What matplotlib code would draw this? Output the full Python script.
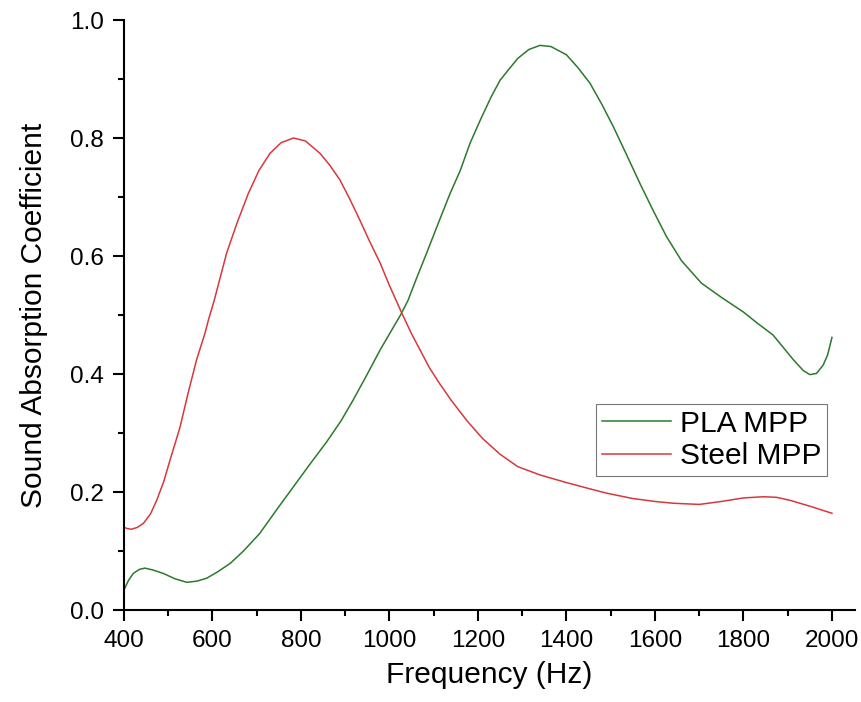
import numpy as np
import matplotlib.pyplot as plt
from matplotlib.ticker import MultipleLocator, FormatStrFormatter

plt.rcParams['font.family'] = ['Liberation Sans', 'DejaVu Sans']

# PLA MPP
freq_pla = [400, 410, 421, 435, 447, 465, 489, 515, 542, 565, 587, 610, 640, 670,
            707, 745, 783, 820, 858, 890, 918, 950, 979, 1000, 1025, 1042, 1060,
            1084, 1110, 1137, 1160, 1182, 1205, 1230, 1250, 1265, 1290, 1315, 1340,
            1365, 1400, 1425, 1453, 1480, 1506, 1535, 1566, 1596, 1626, 1660, 1705,
            1750, 1800, 1830, 1867, 1890, 1913, 1935, 1950, 1965, 1980, 1990, 2000]
alpha_pla = [0.034, 0.050, 0.062, 0.069, 0.071, 0.068, 0.062, 0.053, 0.047, 0.049,
             0.054, 0.064, 0.079, 0.100, 0.130, 0.170, 0.209, 0.247, 0.285, 0.320,
             0.356, 0.400, 0.441, 0.468, 0.500, 0.525, 0.560, 0.605, 0.655, 0.706,
             0.745, 0.791, 0.830, 0.870, 0.898, 0.912, 0.935, 0.950, 0.957, 0.955,
             0.941, 0.920, 0.893, 0.857, 0.819, 0.773, 0.723, 0.677, 0.633, 0.592,
             0.554, 0.530, 0.505, 0.487, 0.466, 0.445, 0.424, 0.406, 0.399, 0.401,
             0.415, 0.432, 0.462]

# Steel MPP
freq_steel = [400, 408, 417, 430, 444, 460, 474, 490, 504, 515, 527, 545, 564, 583,
              591, 604, 632, 655, 681, 705, 730, 755, 783, 810, 843, 865, 888, 910,
              933, 955, 979, 1000, 1028, 1050, 1069, 1090, 1114, 1140, 1175, 1210,
              1250, 1290, 1340, 1400, 1450, 1491, 1550, 1600, 1641, 1700, 1750, 1800,
              1845, 1875, 1905, 1950, 2000]
alpha_steel = [0.140, 0.138, 0.137, 0.140, 0.147, 0.163, 0.186, 0.218, 0.254, 0.281,
               0.311, 0.368, 0.424, 0.469, 0.492, 0.525, 0.605, 0.655, 0.706, 0.745,
               0.774, 0.792, 0.800, 0.795, 0.774, 0.754, 0.729, 0.697, 0.661, 0.625,
               0.588, 0.550, 0.503, 0.468, 0.441, 0.411, 0.383, 0.355, 0.321, 0.291,
               0.264, 0.243, 0.229, 0.216, 0.206, 0.198, 0.189, 0.184, 0.181, 0.179,
               0.184, 0.190, 0.192, 0.191, 0.186, 0.176, 0.164]

fig = plt.figure(figsize=(8.61, 7.02), dpi=100)
ax = fig.add_axes([0.144, 0.131, 0.849, 0.8405])

ax.plot(freq_pla, alpha_pla, color='#2b7a2b', lw=1.1, label='PLA MPP')
ax.plot(freq_steel, alpha_steel, color='#d8383c', lw=1.1, label='Steel MPP')

ax.set_xlim(400, 2052)
ax.set_ylim(0, 1.0)
ax.xaxis.set_major_locator(MultipleLocator(200))
ax.xaxis.set_minor_locator(MultipleLocator(100))
ax.yaxis.set_major_locator(MultipleLocator(0.2))
ax.yaxis.set_minor_locator(MultipleLocator(0.1))
ax.yaxis.set_major_formatter(FormatStrFormatter('%.1f'))

for s in ['top', 'right']:
    ax.spines[s].set_visible(False)
for s in ['left', 'bottom']:
    ax.spines[s].set_linewidth(1.5)

ax.tick_params(which='major', direction='out', length=8, width=1.5,
               labelsize=17.5, pad=6.5)
ax.tick_params(which='minor', direction='out', length=4.5, width=1.5)

ax.set_xlabel('Frequency (Hz)', fontsize=21.5, labelpad=6)
ax.set_ylabel('Sound Absorption Coefficient', fontsize=21.5, labelpad=16)

leg = ax.legend(loc='lower right', bbox_to_anchor=(0.962, 0.227), borderaxespad=0,
                fontsize=21.5, frameon=True, fancybox=False, handlelength=2.3,
                handletextpad=0.3, labelspacing=0.15, borderpad=0.2)
leg.get_frame().set_edgecolor('#555555')
leg.get_frame().set_linewidth(0.8)

fig.savefig('out.png', dpi=100)
